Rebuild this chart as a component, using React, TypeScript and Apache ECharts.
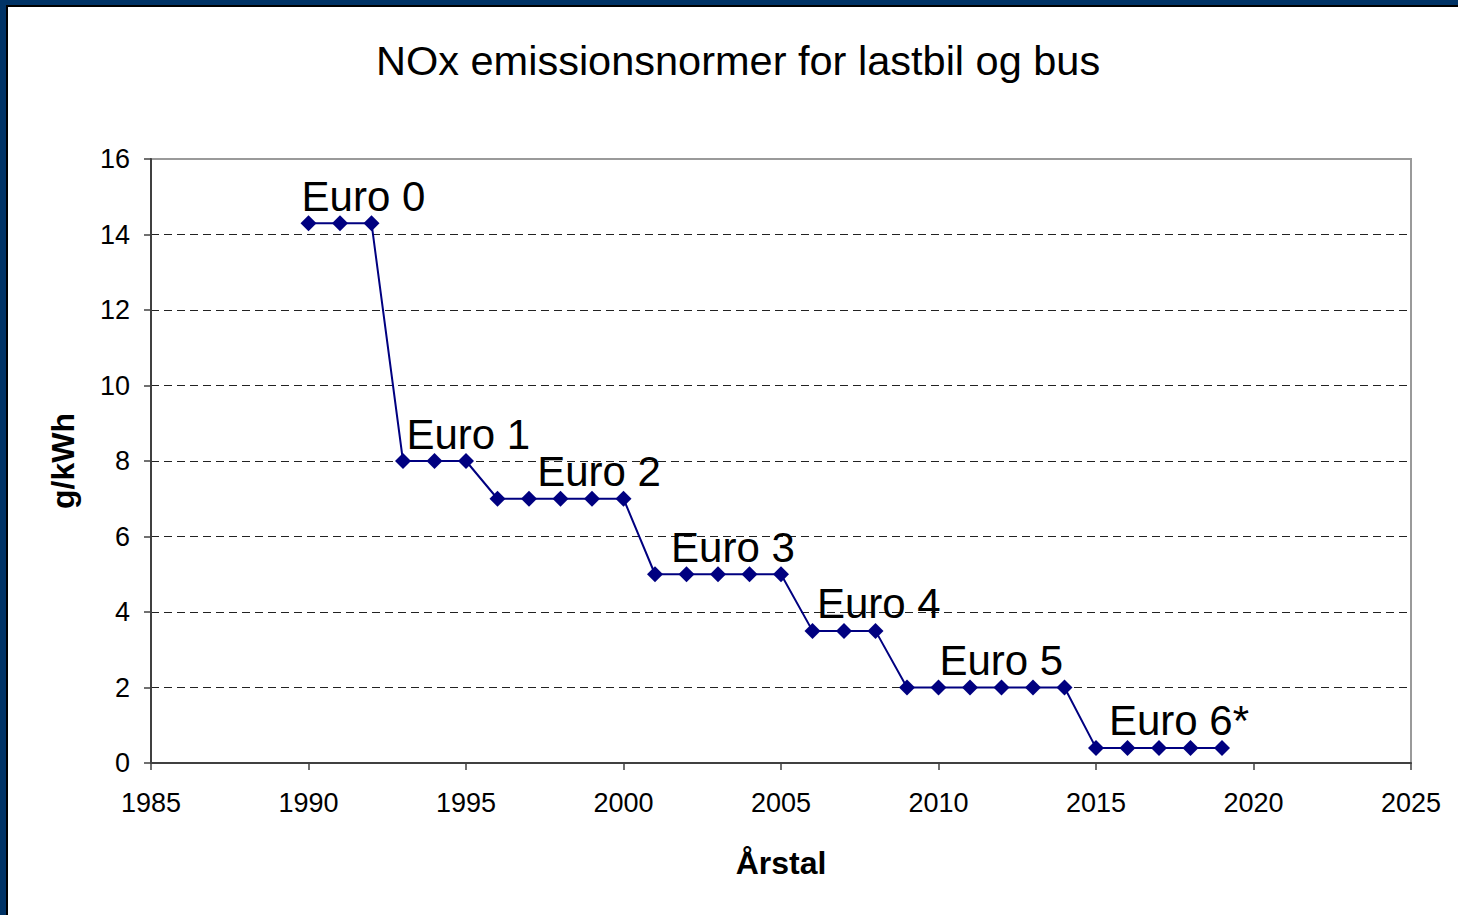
import React, { useEffect, useRef } from "react";
import * as echarts from "echarts";

const years = [
  1990, 1991, 1992, 1993, 1994, 1995, 1996, 1997, 1998, 1999, 2000, 2001, 2002, 2003, 2004,
  2005, 2006, 2007, 2008, 2009, 2010, 2011, 2012, 2013, 2014, 2015, 2016, 2017, 2018, 2019,
];
const noxLimits = [
  14.3, 14.3, 14.3, 8, 8, 8, 7, 7, 7, 7, 7, 5, 5, 5, 5, 5, 3.5, 3.5, 3.5, 2, 2, 2, 2, 2, 2,
  0.4, 0.4, 0.4, 0.4, 0.4,
];
const labelNames = ["Euro 0", "Euro 1", "Euro 2", "Euro 3", "Euro 4", "Euro 5", "Euro 6*"];
const labelYears = [1989.78, 1993.11, 1997.26, 2001.51, 2006.14, 2010.03, 2015.41];
const labelValues = [14.3, 8, 7, 5, 3.5, 2, 0.4];

const titleText = "NOx emissionsnormer for lastbil og bus";
const yName = "g/kWh";
const xName = "Årstal";

const FONT = "'Liberation Sans', Arial, Helvetica, sans-serif";

export default function App() {
  const ref = useRef<HTMLDivElement>(null);

  useEffect(() => {
    document.body.style.margin = "0";
    if (!ref.current) return;
    const chart = echarts.init(ref.current, null, { renderer: "svg" });
    chart.setOption({
      animation: false,
      backgroundColor: "#ffffff",
      title: {
        text: titleText,
        left: 371,
        top: 34,
        textStyle: { fontFamily: FONT, fontSize: 41.5, fontWeight: "normal", color: "#000" },
      },
      grid: {
        left: 151,
        right: 47,
        top: 159,
        bottom: 152,
        show: true,
        borderColor: "#9a9a9a",
        borderWidth: 2,
        backgroundColor: "#fff",
      },
      xAxis: {
        type: "value",
        min: 1985,
        max: 2025,
        interval: 5,
        name: xName,
        nameLocation: "middle",
        nameGap: 84,
        nameTextStyle: { fontFamily: FONT, fontSize: 32, fontWeight: "bold", color: "#000" },
        axisLine: { show: true, onZero: false, lineStyle: { color: "#404040", width: 2 } },
        axisTick: { show: true, length: 7, lineStyle: { color: "#404040", width: 1.5 } },
        axisLabel: {
          fontFamily: FONT,
          fontSize: 27,
          color: "#000",
          margin: 26,
          formatter: (v: number) => String(v),
        },
        splitLine: { show: false },
      },
      yAxis: {
        type: "value",
        min: 0,
        max: 16,
        interval: 2,
        name: yName,
        nameLocation: "middle",
        nameRotate: 90,
        nameGap: 72,
        nameTextStyle: { fontFamily: FONT, fontSize: 32, fontWeight: "bold", color: "#000" },
        axisLine: { show: true, lineStyle: { color: "#404040", width: 2 } },
        axisTick: { show: true, length: 7, lineStyle: { color: "#404040", width: 1.5 } },
        axisLabel: { fontFamily: FONT, fontSize: 27, color: "#000", margin: 21 },
        splitLine: {
          show: true,
          showMinLine: false,
          showMaxLine: false,
          lineStyle: { color: "#222", width: 1, type: [8, 5] },
        },
      },
      series: [
        {
          type: "line",
          data: years.map((y, i) => [y, noxLimits[i]]),
          symbol: "diamond",
          symbolSize: 16,
          lineStyle: { color: "#000080", width: 2 },
          itemStyle: { color: "#000080" },
          z: 3,
        },
        {
          type: "scatter",
          data: labelYears.map((y, i) => [y, labelValues[i], labelNames[i]]),
          symbolSize: 0,
          itemStyle: { color: "#000" },
          silent: true,
          z: 4,
          label: {
            show: true,
            position: "top",
            align: "left",
            distance: 6,
            formatter: (p: any) => p.data[2],
            fontFamily: FONT,
            fontSize: 42,
            color: "#000",
            opacity: 1,
          },
        },
      ],
    });
    return () => chart.dispose();
  }, []);

  return (
    <div style={{ position: "relative", width: 1458, height: 915, background: "#fff", overflow: "hidden" }}>
      <div ref={ref} style={{ position: "absolute", left: 0, top: 0, width: 1458, height: 915 }} />
      <div style={{ position: "absolute", left: 0, top: 0, width: 1458, height: 5, background: "#003366", pointerEvents: "none" }} />
      <div style={{ position: "absolute", left: 6, top: 5, width: 1452, height: 2, background: "#000", pointerEvents: "none" }} />
      <div style={{ position: "absolute", left: 0, top: 0, width: 6, height: 915, background: "#003366", pointerEvents: "none" }} />
      <div style={{ position: "absolute", left: 6, top: 5, width: 2, height: 910, background: "#000", pointerEvents: "none" }} />
    </div>
  );
}
